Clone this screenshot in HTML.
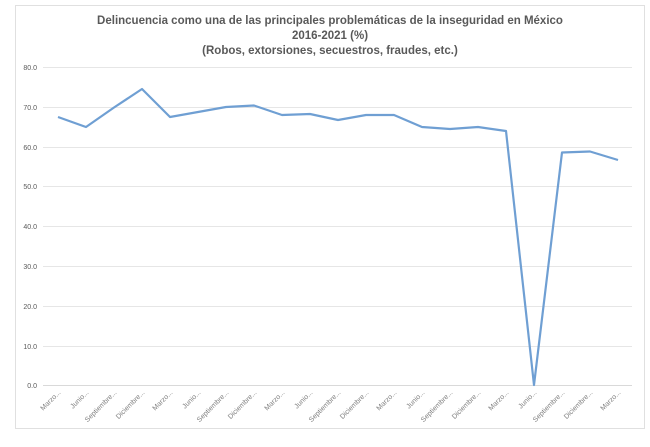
<!DOCTYPE html><html><head><style>body{margin:0;background:#fff}</style></head><body>
<svg width="650" height="442" xmlns="http://www.w3.org/2000/svg" font-family="Liberation Sans, sans-serif">
<rect x="0" y="0" width="650" height="442" fill="#fff"/>
<rect x="15.5" y="5.5" width="629" height="423" fill="#fff" stroke="#e0e0e0"/>
<g font-weight="bold" fill="#595959" font-size="11.5" text-anchor="middle">
<text x="330" y="24">Delincuencia como una de las principales problemáticas de la inseguridad en México</text>
<text x="330" y="39">2016-2021 (%)</text>
<text x="330" y="54">(Robos, extorsiones, secuestros, fraudes, etc.)</text>
</g>
<g stroke="#e6e6e6" stroke-width="1">
<line x1="43" x2="632" y1="67.5" y2="67.5"/><line x1="43" x2="632" y1="107.5" y2="107.5"/>
<line x1="43" x2="632" y1="147.5" y2="147.5"/><line x1="43" x2="632" y1="186.5" y2="186.5"/>
<line x1="43" x2="632" y1="226.5" y2="226.5"/><line x1="43" x2="632" y1="266.5" y2="266.5"/>
<line x1="43" x2="632" y1="306.5" y2="306.5"/><line x1="43" x2="632" y1="346.5" y2="346.5"/>
<line x1="43" x2="632" y1="385.5" y2="385.5" stroke="#d9d9d9"/>
</g>
<g font-size="7" fill="#595959" text-anchor="end">
<text x="37" y="70">80.0</text><text x="37" y="110">70.0</text><text x="37" y="150">60.0</text>
<text x="37" y="189">50.0</text><text x="37" y="229">40.0</text><text x="37" y="269">30.0</text>
<text x="37" y="309">20.0</text><text x="37" y="349">10.0</text><text x="37" y="388">0.0</text>
</g>
<polyline fill="none" stroke="#6f9fd3" stroke-width="2.2" stroke-linejoin="round"
points="58,117 86,127 114,107.5 142,89 170,117 198,112 226,107 254,105.5 282,115 310,114 338,120 366,115 394,115 422,127 450,129 478,127 506,131 534,385 562,152.5 590,151.5 618,160"/>
<g font-size="7" fill="#7f7f7f" text-anchor="end">
<text transform="translate(61,393) rotate(-45)">Marzo...</text>
<text transform="translate(89,393) rotate(-45)">Junio...</text>
<text transform="translate(117,393) rotate(-45)">Septiembre...</text>
<text transform="translate(145,393) rotate(-45)">Diciembre...</text>
<text transform="translate(173,393) rotate(-45)">Marzo...</text>
<text transform="translate(201,393) rotate(-45)">Junio...</text>
<text transform="translate(229,393) rotate(-45)">Septiembre...</text>
<text transform="translate(257,393) rotate(-45)">Diciembre...</text>
<text transform="translate(285,393) rotate(-45)">Marzo...</text>
<text transform="translate(313,393) rotate(-45)">Junio...</text>
<text transform="translate(341,393) rotate(-45)">Septiembre...</text>
<text transform="translate(369,393) rotate(-45)">Diciembre...</text>
<text transform="translate(397,393) rotate(-45)">Marzo...</text>
<text transform="translate(425,393) rotate(-45)">Junio...</text>
<text transform="translate(453,393) rotate(-45)">Septiembre...</text>
<text transform="translate(481,393) rotate(-45)">Diciembre...</text>
<text transform="translate(509,393) rotate(-45)">Marzo...</text>
<text transform="translate(537,393) rotate(-45)">Junio...</text>
<text transform="translate(565,393) rotate(-45)">Septiembre...</text>
<text transform="translate(593,393) rotate(-45)">Diciembre...</text>
<text transform="translate(621,393) rotate(-45)">Marzo...</text>
</g>
</svg>
</body></html>
